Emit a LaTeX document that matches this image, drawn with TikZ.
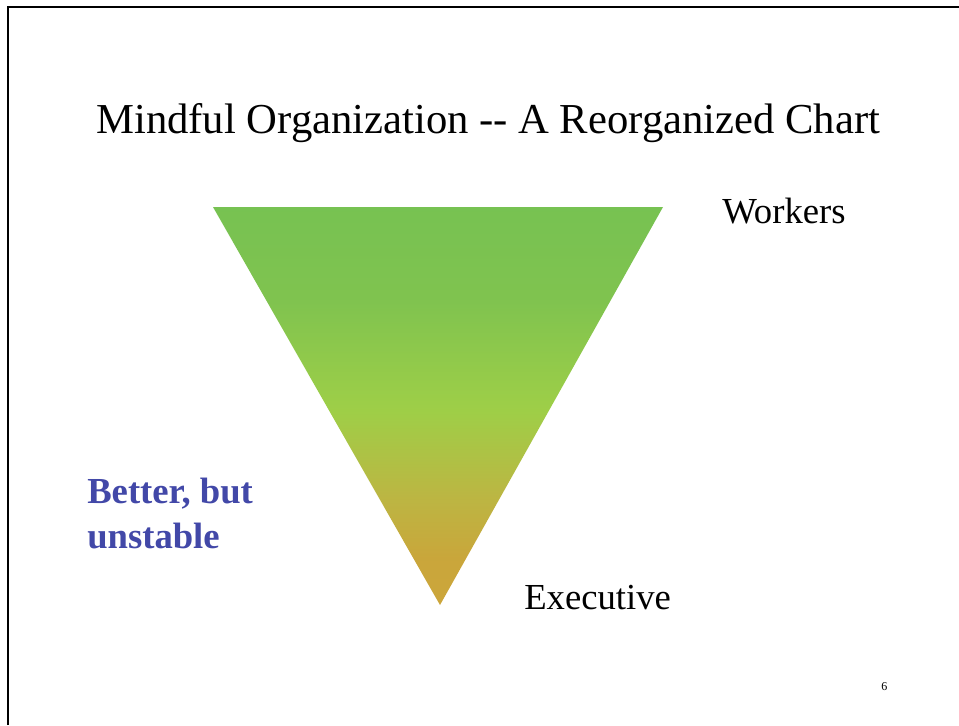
\documentclass[tikz,border=0pt]{standalone}
\usepackage{fontspec}
\setmainfont{Liberation Serif}
\definecolor{labelblue}{RGB}{66,72,168}
\pgfdeclareverticalshading{pyramidshade}{100bp}{%
  rgb(0bp)=(0.80,0.65,0.23);
  rgb(25bp)=(0.80,0.65,0.23);
  rgb(30.7bp)=(0.79,0.65,0.23);
  rgb(38.2bp)=(0.74,0.71,0.26);
  rgb(49.5bp)=(0.62,0.81,0.28);
  rgb(63.3bp)=(0.50,0.765,0.31);
  rgb(75bp)=(0.467,0.76,0.32);
  rgb(100bp)=(0.467,0.76,0.32)}
\begin{document}
\begin{tikzpicture}[x=0.75pt,y=-0.75pt,
  txt/.style={inner sep=0pt,anchor=base west,font=\fontsize{27.5}{33}\selectfont}]
\useasboundingbox (0,0) rectangle (959,725);
\fill[white] (0,0) rectangle (959,725);
\draw[line width=1.5pt] (8,725) -- (8,7) -- (959,7);
\coordinate (tl) at (213,207);
\coordinate (tr) at (663,207);
\coordinate (bt) at (440,605);
\shade[shading=pyramidshade] (tl) -- (tr) -- (bt) -- cycle;
\node[txt,font=\fontsize{32}{38}\selectfont] (title) at (96,133) {Mindful Organization {-}{-} A Reorganized Chart};
\node[txt] (workers) at (722,223) {Workers};
\node[txt] (exec) at (524,609) {Executive};
\node[txt,font=\fontsize{27.5}{33}\selectfont\bfseries,text=labelblue] (better) at (87,503) {Better, but};
\node[txt,font=\fontsize{27.5}{33}\selectfont\bfseries,text=labelblue] (unstable) at (87,548) {unstable};
\node[txt,font=\fontsize{9}{11}\selectfont] (pnum) at (881,690) {6};
\end{tikzpicture}
\end{document}
